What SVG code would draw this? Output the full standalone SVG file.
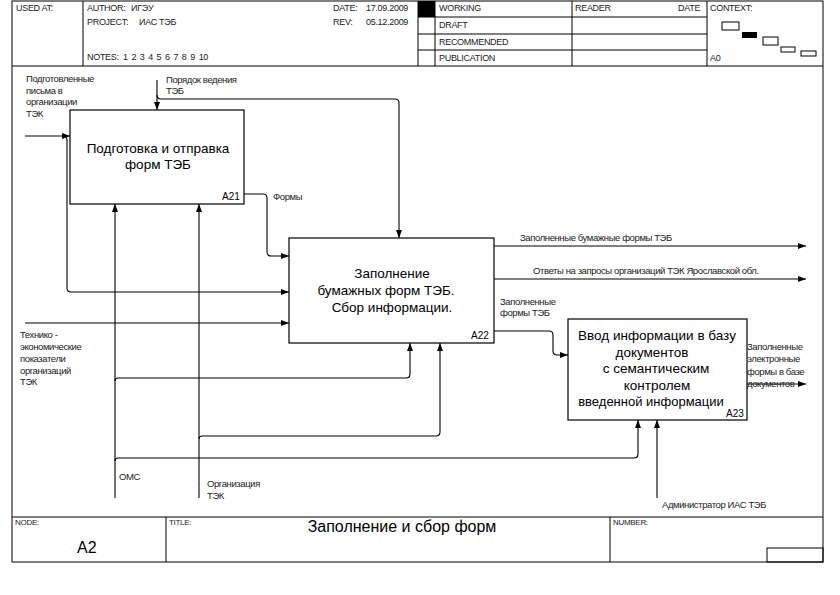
<svg xmlns="http://www.w3.org/2000/svg" width="840" height="595" viewBox="0 0 840 595">
<style>
.fr{fill:none;stroke:#000;stroke-width:1}
.hd{font-family:"Liberation Sans",Arial,sans-serif;font-size:9px;fill:#222;letter-spacing:-0.3px}
.lb{font-family:"Liberation Sans",Arial,sans-serif;font-size:9.5px;fill:#222;letter-spacing:-0.4px}
.bx{fill:#fff;stroke:#000;stroke-width:1.2}
.bt{font-family:"Liberation Sans",Arial,sans-serif;font-size:13.5px;fill:#000;text-anchor:middle}
.id{font-family:"Liberation Sans",Arial,sans-serif;font-size:10px;fill:#000}
.cn{fill:none;stroke:#000;stroke-width:1.1}
.big{font-family:"Liberation Sans",Arial,sans-serif;font-size:16px;fill:#000}
</style>
<defs>
<marker id="ar" viewBox="0 0 8 6" refX="8" refY="3" markerWidth="8" markerHeight="6" markerUnits="userSpaceOnUse" orient="auto">
<path d="M0,0 L8,3 L0,6 Z" fill="#000"/>
</marker>
</defs>
<rect width="840" height="595" fill="#fff"/>
<g id="frame">
<rect class="fr" x="12" y="1" width="811" height="561"/>
<line class="fr" x1="12" y1="66" x2="823" y2="66"/>
<line class="fr" x1="12" y1="517" x2="823" y2="517"/>
<line class="fr" x1="83" y1="1" x2="83" y2="66"/>
<line class="fr" x1="418" y1="1" x2="418" y2="66"/>
<line class="fr" x1="435" y1="1" x2="435" y2="66"/>
<line class="fr" x1="572" y1="1" x2="572" y2="66"/>
<line class="fr" x1="707" y1="1" x2="707" y2="66"/>
<line class="fr" x1="418" y1="17" x2="707" y2="17"/>
<line class="fr" x1="418" y1="34" x2="707" y2="34"/>
<line class="fr" x1="418" y1="50" x2="707" y2="50"/>
<rect x="418" y="1" width="17" height="16" fill="#000"/>
<line class="fr" x1="166" y1="517" x2="166" y2="562"/>
<line class="fr" x1="610" y1="517" x2="610" y2="562"/>
<rect class="fr" x="767" y="548" width="56" height="14"/>
<rect class="fr" x="722" y="22" width="17" height="8"/>
<rect x="742" y="32" width="15" height="6" fill="#000"/>
<rect class="fr" x="763" y="37" width="15" height="8"/>
<rect class="fr" x="781" y="47" width="14" height="5"/>
<rect class="fr" x="801" y="51" width="15" height="5"/>
<text class="hd" x="16" y="11">USED AT:</text>
<text class="hd" x="87" y="11">AUTHOR:</text>
<text class="hd" x="131" y="11">ИГЭУ</text>
<text class="hd" x="87" y="25">PROJECT:</text>
<text class="hd" x="139" y="25">ИАС ТЭБ</text>
<text class="hd" x="87" y="60">NOTES:</text>
<text class="hd" x="123" y="60" word-spacing="1.5">1 2 3 4 5 6 7 8 9 10</text>
<text class="hd" x="333" y="11">DATE:</text>
<text class="hd" x="366" y="11">17.09.2009</text>
<text class="hd" x="333" y="25">REV:</text>
<text class="hd" x="366" y="25">05.12.2009</text>
<text class="hd" x="439" y="11">WORKING</text>
<text class="hd" x="439" y="28">DRAFT</text>
<text class="hd" x="439" y="45">RECOMMENDED</text>
<text class="hd" x="439" y="61">PUBLICATION</text>
<text class="hd" x="575" y="11">READER</text>
<text class="hd" x="678" y="11">DATE</text>
<text class="hd" x="710" y="11">CONTEXT:</text>
<text class="hd" x="710" y="61">A0</text>
<text class="hd" x="15" y="525" style="font-size:8px">NODE:</text>
<text class="hd" x="169" y="525" style="font-size:8px">TITLE:</text>
<text class="hd" x="613" y="525" style="font-size:8px">NUMBER:</text>
<text class="big" x="402" y="532" text-anchor="middle">Заполнение и сбор форм</text>
<text class="big" x="77" y="553">A2</text>
</g>
<g id="connectors">
<path class="cn" d="M25,136 H70" marker-end="url(#ar)"/>
<path class="cn" d="M63,136 Q67,136 67,140 V288 Q67,292 71,292 H289" marker-end="url(#ar)"/>
<path class="cn" d="M157,80 V110" marker-end="url(#ar)"/>
<path class="cn" d="M157,95 Q157,99 161,99 H395 Q399,99 399,103 V238" marker-end="url(#ar)"/>
<path class="cn" d="M244,194 H263 Q267,194 267,198 V252 Q267,256 271,256 H289" marker-end="url(#ar)"/>
<path class="cn" d="M25,323 H289" marker-end="url(#ar)"/>
<path class="cn" d="M494,246 H806" marker-end="url(#ar)"/>
<path class="cn" d="M494,279 H806" marker-end="url(#ar)"/>
<path class="cn" d="M494,331 H549 Q553,331 553,335 V351 Q553,355 557,355 H568" marker-end="url(#ar)"/>
<path class="cn" d="M747,384 H806" marker-end="url(#ar)"/>
<path class="cn" d="M115,498 V204" marker-end="url(#ar)"/>
<path class="cn" d="M115,381 Q115,378 118,378 H406 Q410,378 410,374 V343" marker-end="url(#ar)"/>
<path class="cn" d="M115,461 Q115,458 118,458 H634 Q638,458 638,454 V420" marker-end="url(#ar)"/>
<path class="cn" d="M199,498 V204" marker-end="url(#ar)"/>
<path class="cn" d="M199,439 Q199,436 202,436 H436 Q440,436 440,432 V343" marker-end="url(#ar)"/>
<path class="cn" d="M657,498 V420" marker-end="url(#ar)"/>
<text class="lb" x="26" y="82">Подготовленные</text>
<text class="lb" x="26" y="94">письма в</text>
<text class="lb" x="26" y="105">организации</text>
<text class="lb" x="26" y="117">ТЭК</text>
<text class="lb" x="166" y="83">Порядок ведения</text>
<text class="lb" x="166" y="94">ТЭБ</text>
<text class="lb" x="273" y="200">Формы</text>
<text class="lb" x="20" y="338">Технико -</text>
<text class="lb" x="20" y="350">экономические</text>
<text class="lb" x="20" y="362">показатели</text>
<text class="lb" x="20" y="374">организаций</text>
<text class="lb" x="20" y="385">ТЭК</text>
<text class="lb" x="520" y="241">Заполненные бумажные формы ТЭБ</text>
<text class="lb" x="533" y="274">Ответы на запросы организаций ТЭК Ярославской обл.</text>
<text class="lb" x="500" y="305">Заполненные</text>
<text class="lb" x="500" y="316">формы ТЭБ</text>
<text class="lb" x="747" y="350">Заполненные</text>
<text class="lb" x="747" y="362">электронные</text>
<text class="lb" x="747" y="375">формы в базе</text>
<text class="lb" x="747" y="387">документов</text>
<text class="lb" x="119" y="480">ОМС</text>
<text class="lb" x="207" y="487">Организация</text>
<text class="lb" x="207" y="499">ТЭК</text>
<text class="lb" x="662" y="508">Администратор ИАС ТЭБ</text>
</g>
<g id="A21">
<rect class="bx" x="70" y="110" width="174" height="94"/>
<text class="bt" x="158" y="153">Подготовка и отправка</text>
<text class="bt" x="158" y="169">форм ТЭБ</text>
<text class="id" x="222" y="200">A21</text>
</g>
<g id="A22">
<rect class="bx" x="289" y="238" width="205" height="105"/>
<text class="bt" x="392" y="278">Заполнение</text>
<text class="bt" x="386" y="295">бумажных форм ТЭБ.</text>
<text class="bt" x="392" y="312">Сбор информации.</text>
<text class="id" x="471" y="339">A22</text>
</g>
<g id="A23">
<rect class="bx" x="568" y="319" width="179" height="101"/>
<text class="bt" x="657" y="340">Ввод информации в базу</text>
<text class="bt" x="652" y="357">документов</text>
<text class="bt" x="656" y="373">с семантическим</text>
<text class="bt" x="657" y="390">контролем</text>
<text class="bt" x="651" y="406" style="font-size:13px">введенной информации</text>
<text class="id" x="726" y="417">A23</text>
</g>
</svg>
